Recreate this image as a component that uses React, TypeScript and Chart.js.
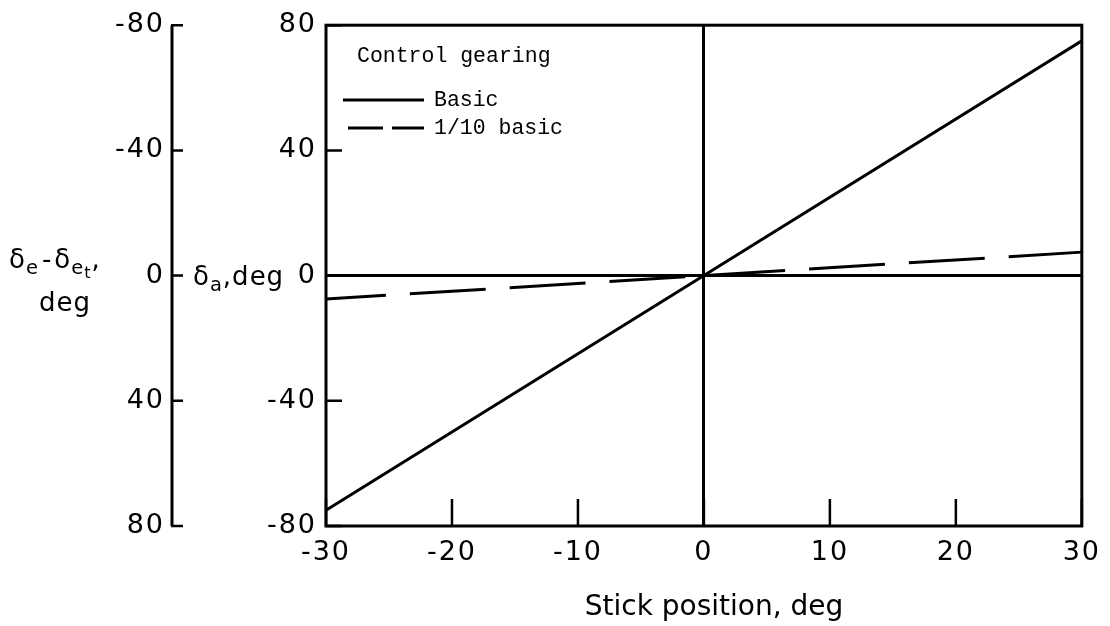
import React, { useEffect, useRef } from "react";
import { Chart, registerables } from "chart.js";

Chart.register(...registerables);

// ---- data ----
const stickPosition = [-30, 0, 30];
const basicDeflection = [-75, 0, 75];
const tenthBasicDeflection = [-7.5, 0, 7.5];
const seriesNames = ["Basic", "1/10 basic"];
const legendTitle = "Control gearing";
const xTitle = "Stick position, deg";

const FONT = "'DejaVu Sans', sans-serif";
const MONO = "'Liberation Mono', 'DejaVu Sans Mono', monospace";

type Part = { t: string; sub?: number; gap?: number };

function drawRich(ctx: CanvasRenderingContext2D, parts: Part[], x: number, y: number, size: number) {
  let cx = x;
  for (const p of parts) {
    const lvl = p.sub || 0;
    const fs = lvl === 0 ? size : lvl === 1 ? size * 0.75 : size * 0.62;
    const dy = lvl === 0 ? 0 : lvl === 1 ? size * 0.25 : size * 0.4;
    ctx.font = `${fs}px ${FONT}`;
    cx += p.gap || 0;
    ctx.fillText(p.t, cx, y + dy);
    cx += ctx.measureText(p.t).width;
  }
  return cx;
}

const spacingPlugin = {
  id: "spacing",
  beforeDraw(chart: any) {
    (chart.ctx as any).letterSpacing = "2px";
  },
};

const decorPlugin = {
  id: "decor",
  afterDraw(chart: any) {
    const { ctx, chartArea } = chart;
    const { left, right, top, bottom } = chartArea;
    const sx = chart.scales.x;
    const sy = chart.scales.y;
    const sy2 = chart.scales.y2;
    ctx.save();
    ctx.strokeStyle = "#000";
    ctx.fillStyle = "#000";
    ctx.lineCap = "butt";
    // frame
    ctx.lineWidth = 3;
    ctx.strokeRect(left, top, right - left, bottom - top);
    // inward ticks
    ctx.lineWidth = 2.5;
    ctx.beginPath();
    for (const t of sy.ticks) {
      const py = sy.getPixelForValue(t.value);
      ctx.moveTo(left, py);
      ctx.lineTo(left + 16, py);
    }
    for (const t of sx.ticks) {
      const px = sx.getPixelForValue(t.value);
      ctx.moveTo(px, bottom);
      ctx.lineTo(px, bottom - 27);
    }
    ctx.stroke();
    // secondary (elevator) axis
    const ax = sy2.right;
    ctx.lineWidth = 3;
    ctx.beginPath();
    ctx.moveTo(ax, top);
    ctx.lineTo(ax, bottom);
    ctx.stroke();
    ctx.lineWidth = 2.5;
    ctx.beginPath();
    for (const t of sy2.ticks) {
      const py = sy2.getPixelForValue(t.value);
      ctx.moveTo(ax - 1, py);
      ctx.lineTo(ax + 11, py);
    }
    ctx.stroke();

    // axis titles
    ctx.textAlign = "left";
    ctx.textBaseline = "alphabetic";
    (ctx as any).letterSpacing = "1px";
    const zeroY = sy.getPixelForValue(0);
    drawRich(ctx, [{ t: "δ" }, { t: "a", sub: 1 }, { t: ",deg" }], 193, zeroY + 9, 26);
    drawRich(
      ctx,
      [
        { t: "δ" },
        { t: "e", sub: 1 },
        { t: "-", gap: 3 },
        { t: "δ", gap: 2 },
        { t: "e", sub: 1 },
        { t: "t", sub: 2 },
        { t: "," },
      ],
      9,
      zeroY - 8,
      26
    );
    drawRich(ctx, [{ t: "deg" }], 39, zeroY + 35, 26);

    // x title
    (ctx as any).letterSpacing = "0px";
    ctx.textAlign = "center";
    ctx.font = `28px ${FONT}`;
    ctx.fillText(xTitle, 714, 615);

    // legend
    ctx.textAlign = "left";
    const ds = chart.data.datasets;
    ctx.font = `21.5px ${MONO}`;
    ctx.fillText(legendTitle, 357, 62);
    const rows = [100, 128];
    ds.forEach((d: any, i: number) => {
      ctx.save();
      ctx.lineWidth = 3;
      ctx.setLineDash(i === 0 ? [] : [35, 9]);
      ctx.beginPath();
      ctx.moveTo(i === 0 ? 343 : 348, rows[i]);
      ctx.lineTo(424, rows[i]);
      ctx.stroke();
      ctx.restore();
      ctx.font = `21.5px ${MONO}`;
      ctx.textBaseline = "middle";
      ctx.fillText(d.label, 434, rows[i]);
    });
    ctx.restore();
  },
};

export default function App() {
  const ref = useRef<HTMLCanvasElement | null>(null);
  useEffect(() => {
    if (!ref.current) return;
    const zeroGrid = (c: any) => (c.tick && c.tick.value === 0 ? "#000" : "rgba(0,0,0,0)");
    const tickFont = { family: FONT, size: 27 };
    const chart = new Chart(ref.current, {
      type: "line",
      data: {
        datasets: [
          {
            label: seriesNames[0],
            data: stickPosition.map((x, i) => ({ x, y: basicDeflection[i] })),
            borderColor: "#000",
            borderWidth: 3,
            pointRadius: 0,
            tension: 0,
          },
          {
            label: seriesNames[1],
            data: stickPosition.map((x, i) => ({ x, y: tenthBasicDeflection[i] })),
            borderColor: "#000",
            borderWidth: 3,
            borderDash: [76, 24],
            borderDashOffset: 16,
            pointRadius: 0,
            tension: 0,
          },
        ],
      },
      options: {
        animation: false,
        responsive: true,
        maintainAspectRatio: false,
        layout: { padding: { top: 16, right: 27, left: 0, bottom: 0 } },
        plugins: { legend: { display: false }, tooltip: { enabled: false } },
        scales: {
          x: {
            type: "linear",
            min: -30,
            max: 30,
            ticks: { stepSize: 10, padding: 11, color: "#000", font: tickFont, maxRotation: 0, autoSkip: false },
            grid: { drawTicks: false, color: zeroGrid, lineWidth: 3 },
            border: { display: false },
            title: { display: false },
            afterFit: (s: any) => {
              s.height = 100;
            },
          },
          y: {
            position: "left",
            weight: 0,
            min: -80,
            max: 80,
            ticks: { stepSize: 40, padding: 9, color: "#000", font: tickFont },
            grid: { drawTicks: false, color: zeroGrid, lineWidth: 3 },
            border: { display: false },
            afterFit: (s: any) => {
              s.width = 154;
            },
          },
          y2: {
            position: "left",
            weight: 1,
            reverse: true,
            min: -80,
            max: 80,
            ticks: { stepSize: 40, padding: 7, color: "#000", font: tickFont },
            grid: { display: false, drawTicks: false },
            border: { display: false },
            afterFit: (s: any) => {
              s.width = 172;
            },
          },
        },
      } as any,
      plugins: [spacingPlugin, decorPlugin],
    });
    return () => chart.destroy();
  }, []);
  return (
    <div style={{ position: "absolute", left: 0, top: 0, width: 1110, height: 626, background: "#fff" }}>
      <canvas ref={ref} />
    </div>
  );
}
